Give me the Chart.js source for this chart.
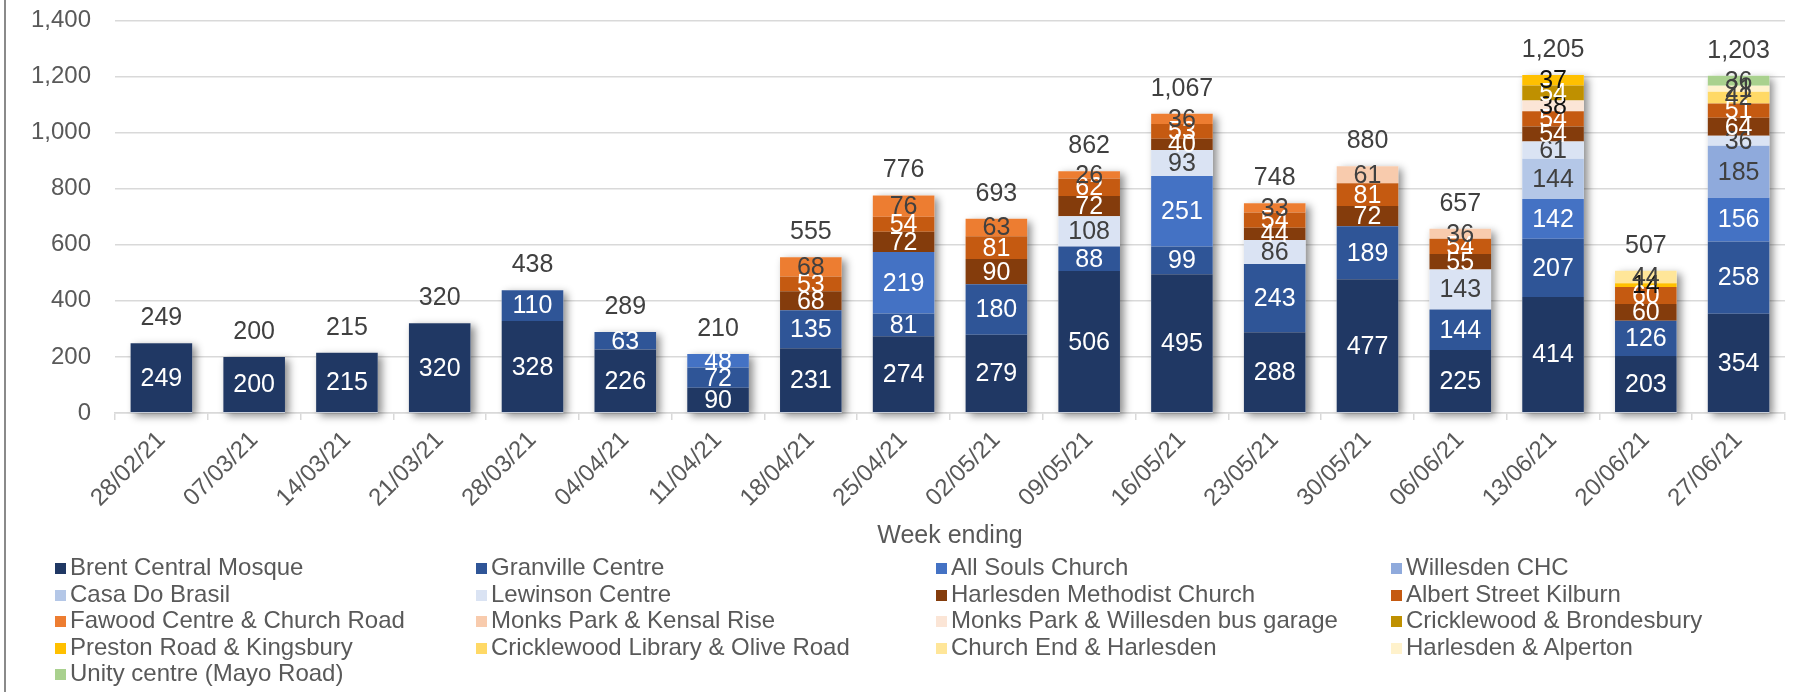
<!DOCTYPE html>
<html>
<head>
<meta charset="utf-8">
<title>Weekly attendance by site</title>
<script src="https://cdn.jsdelivr.net/npm/chart.js@4/dist/chart.umd.min.js"></script>
<style>
    body { margin: 0; background: #fff; font-family: "Liberation Sans", Arial, sans-serif; }
    #wrap { position: relative; width: 1805px; height: 692px; overflow: hidden; }
    #frameLine { position: absolute; left: 4px; top: 0; width: 2px; height: 692px; background: #8a8a8a; }
    /* canvas pulled up so the top tick sits where the cropped original has it */
    #myChart { position: absolute; left: 0; top: -18px; }
    #legend {
        position: absolute; left: 55px; top: 554px;
        display: grid; grid-template-columns: 421px 460px 455px 400px;
        font-size: 24px; line-height: 26.5px; color: #595959;
    }
    #legend span.item { white-space: nowrap; }
    #legend i { display: inline-block; width: 11px; height: 11px; margin-right: 4px; vertical-align: 1px; }
</style>
</head>
<body>
<div id="wrap">
    <canvas id="myChart" width="1805" height="578"></canvas>
    <div id="frameLine"></div>
    <div id="legend"></div>
</div>
<script>
//
// Variables
//

var weeks = ['28/02/21', '07/03/21', '14/03/21', '21/03/21', '28/03/21', '04/04/21',
    '11/04/21', '18/04/21', '25/04/21', '02/05/21', '09/05/21', '16/05/21',
    '23/05/21', '30/05/21', '06/06/21', '13/06/21', '20/06/21', '27/06/21'];

var brentCentralMosque      = [249, 200, 215, 320, 328, 226, 90, 231, 274, 279, 506, 495, 288, 477, 225, 414, 203, 354];
var granvilleCentre         = [0, 0, 0, 0, 110, 63, 72, 135, 81, 180, 88, 99, 243, 189, 144, 207, 126, 258];
var allSoulsChurch          = [0, 0, 0, 0, 0, 0, 48, 0, 219, 0, 0, 251, 0, 0, 0, 142, 0, 156];
var willesdenCHC            = [0, 0, 0, 0, 0, 0, 0, 0, 0, 0, 0, 0, 0, 0, 0, 0, 0, 185];
var casaDoBrasil            = [0, 0, 0, 0, 0, 0, 0, 0, 0, 0, 0, 0, 0, 0, 0, 144, 0, 0];
var lewinsonCentre          = [0, 0, 0, 0, 0, 0, 0, 0, 0, 0, 108, 93, 86, 0, 143, 61, 0, 36];
var harlesdenMethodist      = [0, 0, 0, 0, 0, 0, 0, 68, 72, 90, 72, 40, 44, 72, 55, 54, 60, 64];
var albertStreetKilburn     = [0, 0, 0, 0, 0, 0, 0, 53, 54, 81, 62, 53, 54, 81, 54, 54, 60, 51];
var fawoodChurchRoad        = [0, 0, 0, 0, 0, 0, 0, 68, 76, 63, 26, 36, 33, 0, 0, 0, 0, 0];
var monksParkKensalRise     = [0, 0, 0, 0, 0, 0, 0, 0, 0, 0, 0, 0, 0, 61, 36, 0, 0, 0];
var monksParkBusGarage      = [0, 0, 0, 0, 0, 0, 0, 0, 0, 0, 0, 0, 0, 0, 0, 38, 0, 0];
var cricklewoodBrondesbury  = [0, 0, 0, 0, 0, 0, 0, 0, 0, 0, 0, 0, 0, 0, 0, 54, 0, 0];
var prestonRoadKingsbury    = [0, 0, 0, 0, 0, 0, 0, 0, 0, 0, 0, 0, 0, 0, 0, 37, 14, 0];
var cricklewoodLibraryOlive = [0, 0, 0, 0, 0, 0, 0, 0, 0, 0, 0, 0, 0, 0, 0, 0, 0, 42];
var churchEndHarlesden      = [0, 0, 0, 0, 0, 0, 0, 0, 0, 0, 0, 0, 0, 0, 0, 0, 44, 0];
var harlesdenAlperton       = [0, 0, 0, 0, 0, 0, 0, 0, 0, 0, 0, 0, 0, 0, 0, 0, 0, 21];
var unityCentre             = [0, 0, 0, 0, 0, 0, 0, 0, 0, 0, 0, 0, 0, 0, 0, 0, 0, 36];

var yTicks = [0, 200, 400, 600, 800, 1000, 1200, 1400];

// series names, bottom of the stack first
var siteNames = ['Brent Central Mosque', 'Granville Centre', 'All Souls Church', 'Willesden CHC',
    'Casa Do Brasil', 'Lewinson Centre', 'Harlesden Methodist Church', 'Albert Street Kilburn',
    'Fawood Centre & Church Road', 'Monks Park & Kensal Rise', 'Monks Park & Willesden bus garage',
    'Cricklewood & Brondesbury', 'Preston Road & Kingsbury', 'Cricklewood Library & Olive Road',
    'Church End & Harlesden', 'Harlesden & Alperton', 'Unity centre (Mayo Road)'];

var siteValues = [brentCentralMosque, granvilleCentre, allSoulsChurch, willesdenCHC,
    casaDoBrasil, lewinsonCentre, harlesdenMethodist, albertStreetKilburn,
    fawoodChurchRoad, monksParkKensalRise, monksParkBusGarage,
    cricklewoodBrondesbury, prestonRoadKingsbury, cricklewoodLibraryOlive,
    churchEndHarlesden, harlesdenAlperton, unityCentre];

// fill colours and label colours per series
var fillColors = ['#203864', '#2F5597', '#4472C4', '#8FAADC', '#B4C7E7', '#DAE3F3',
    '#843C0C', '#C55A11', '#ED7D31', '#F8CBAD', '#FBE5D6', '#BF9000', '#FFC000',
    '#FFD966', '#FFE699', '#FFF2CC', '#A9D18E'];
var labelColors = ['#fff', '#fff', '#fff', '#404040', '#404040', '#404040',
    '#fff', '#fff', '#404040', '#404040', '#111', '#fff', '#111',
    '#404040', '#404040', '#404040', '#404040'];

var fontFamily = '"Liberation Sans", Arial, sans-serif';


//
// Methods
//

/**
 * Sum the stack for each week
 */
function getTotals() {
    return weeks.map(function (w, i) {
        var sum = 0;
        siteValues.forEach(function (arr) { sum += arr[i]; });
        return sum;
    });
};

/**
 * Soft shadow behind each whole stack, like the office chart
 */
var stackShadow = {
    id: 'stackShadow',
    beforeDatasetsDraw: function (chart) {
        var ctx = chart.ctx;
        var x = chart.scales.x;
        var y = chart.scales.y;
        var totals = getTotals();
        var w = chart.getDatasetMeta(0).data[0].width;
        ctx.save();
        ctx.shadowColor = 'rgba(0,0,0,0.45)';
        ctx.shadowBlur = 8;
        ctx.shadowOffsetX = 4;
        ctx.shadowOffsetY = 3;
        ctx.fillStyle = '#fff';
        totals.forEach(function (t, i) {
            var cx = x.getPixelForValue(i);
            var top = y.getPixelForValue(t);
            var base = y.getPixelForValue(0);
            ctx.fillRect(cx - w / 2, top, w, base - top);
        });
        ctx.restore();
    }
};

/**
 * Value labels in the segments and totals on top
 */
var valueLabels = {
    id: 'valueLabels',
    afterDatasetsDraw: function (chart) {
        var ctx = chart.ctx;
        var totals = getTotals();
        ctx.save();
        ctx.font = '25px ' + fontFamily;
        ctx.textAlign = 'center';
        ctx.textBaseline = 'middle';

        chart.data.datasets.forEach(function (ds, d) {
            var meta = chart.getDatasetMeta(d);
            meta.data.forEach(function (bar, i) {
                if (!ds.data[i]) return;
                ctx.fillStyle = labelColors[d];
                ctx.fillText(ds.data[i], bar.x, (bar.y + bar.base) / 2 + 1);
            });
        });

        ctx.fillStyle = '#404040';
        totals.forEach(function (t, i) {
            var cx = chart.scales.x.getPixelForValue(i);
            var top = chart.scales.y.getPixelForValue(t);
            ctx.fillText(t.toLocaleString('en-GB'), cx, top - 25);
        });
        ctx.restore();
    }
};

/**
 * Legend in four columns under the chart
 */
function renderLegend() {
    var html = '';
    siteNames.forEach(function (name, i) {
        html += '<span class="item"><i style="background:' + fillColors[i] + '"></i>' +
            name.replace(/&/g, '&amp;') + '</span>';
    });
    document.querySelector('#legend').innerHTML = html;
};


//
// Chart
//

var datasets = siteNames.map(function (name, i) {
    return {
        label: name,
        data: siteValues[i],
        backgroundColor: fillColors[i],
        borderWidth: 0,
        categoryPercentage: 1,
        barPercentage: 0.664
    };
});

var ctx = document.querySelector('#myChart').getContext('2d');
var chart = new Chart(ctx, {
    type: 'bar',
    data: { labels: weeks, datasets: datasets },
    options: {
        responsive: false,
        animation: false,
        devicePixelRatio: 1,
        layout: { padding: { left: 0, right: 20, top: 0, bottom: 0 } },
        plugins: {
            legend: { display: false },
            tooltip: { enabled: false }
        },
        scales: {
            x: {
                stacked: true,
                afterFit: function (scale) { scale.height = 147; },
                grid: {
                    offset: true,
                    drawOnChartArea: false,
                    drawTicks: true,
                    tickLength: 7,
                    color: '#D9D9D9',
                    lineWidth: 1.5
                },
                border: { display: true, color: '#D9D9D9', width: 1.5 },
                ticks: {
                    minRotation: 45,
                    maxRotation: 45,
                    padding: 6,
                    color: '#595959',
                    font: { family: fontFamily, size: 24 }
                },
                title: {
                    display: true,
                    text: 'Week ending',
                    color: '#595959',
                    padding: { top: 0, bottom: 9 },
                    font: { family: fontFamily, size: 25 }
                }
            },
            y: {
                stacked: true,
                min: 0,
                max: 1400,
                afterFit: function (scale) { scale.width = 115; },
                afterBuildTicks: function (scale) {
                    scale.ticks = yTicks.map(function (v) { return { value: v }; });
                },
                grid: { color: '#D9D9D9', lineWidth: 1.5, drawTicks: false },
                border: { display: false },
                ticks: {
                    padding: 24,
                    color: '#595959',
                    font: { family: fontFamily, size: 24 },
                    callback: function (v) { return Number(v).toLocaleString('en-GB'); }
                }
            }
        }
    },
    plugins: [stackShadow, valueLabels]
});

renderLegend();
</script>
</body>
</html>
